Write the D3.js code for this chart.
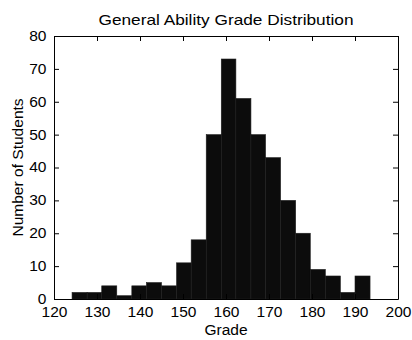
<!DOCTYPE html>
<html>
<head>
<meta charset="utf-8">
<script src="https://cdn.jsdelivr.net/npm/d3@7"></script>
<style>
  html, body { margin: 0; padding: 0; background: #fff; }
  svg { display: block; }
  svg text { font-family: "Liberation Sans", Arial, sans-serif; }
</style>
</head>
<body>
<svg id="chart" width="412" height="340"></svg>
<script>
// ---- data ----
const binEdges = [124.2, 127.7, 131.1, 134.6, 138.1, 141.5, 145.0, 148.5, 151.9, 155.4,
                  158.9, 162.3, 165.8, 169.2, 172.7, 176.2, 179.6, 183.1, 186.6, 190.0, 193.5];
const counts   = [2, 2, 4, 1, 4, 5, 4, 11, 18, 50, 73, 61, 50, 43, 30, 20, 9, 7, 2, 7];
const xTicks = [120, 130, 140, 150, 160, 170, 180, 190, 200];
const yTicks = [0, 10, 20, 30, 40, 50, 60, 70, 80];
const titleText = "General Ability Grade Distribution";
const xLabel = "Grade";
const yLabel = "Number of Students";

// ---- layout ----
const W = 412, H = 340;
const margin = { left: 54, top: 36, right: 14, bottom: 41 };
const iw = W - margin.left - margin.right;
const ih = H - margin.top - margin.bottom;
const FONT = '"Liberation Sans", Arial, sans-serif';
const stretchK = 1.11;

function stretch(sel, k) {
  sel.each(function () {
    const w = this.getComputedTextLength();
    d3.select(this).attr("textLength", w * k).attr("lengthAdjust", "spacingAndGlyphs");
  });
}

const svg = d3.select("#chart");
const g = svg.append("g").attr("transform", `translate(${margin.left},${margin.top})`);

const x = d3.scaleLinear().domain([120, 200]).range([0, iw]);
const y = d3.scaleLinear().domain([0, 80]).range([ih, 0]);

const bins = counts.map((c, i) => ({ x0: binEdges[i], x1: binEdges[i + 1], n: c }));

// bars
g.selectAll("rect.bar").data(bins).enter().append("rect")
  .attr("class", "bar")
  .attr("x", d => x(d.x0))
  .attr("y", d => y(d.n))
  .attr("width", d => x(d.x1) - x(d.x0))
  .attr("height", d => y(0) - y(d.n))
  .attr("fill", "#0c0c0c")
  .attr("stroke", "#1e1e1e")
  .attr("stroke-width", 0.6);

// axes (inward ticks, box)
const tickLen = 5;
const fs = 14;

const xAxisB = d3.axisBottom(x).tickValues(xTicks).tickSizeInner(-tickLen).tickSizeOuter(0).tickPadding(8);
g.append("g").attr("transform", `translate(0,${ih})`).call(xAxisB);

const xAxisT = d3.axisTop(x).tickValues(xTicks).tickSizeInner(-tickLen).tickSizeOuter(0).tickFormat("");
g.append("g").call(xAxisT);

const yAxisL = d3.axisLeft(y).tickValues(yTicks).tickSizeInner(-tickLen).tickSizeOuter(0).tickPadding(7.5);
g.append("g").call(yAxisL);

const yAxisR = d3.axisRight(y).tickValues(yTicks).tickSizeInner(-tickLen).tickSizeOuter(0).tickFormat("");
g.append("g").attr("transform", `translate(${iw},0)`).call(yAxisR);

g.selectAll("g").attr("font-family", FONT).attr("font-size", fs);
g.selectAll(".tick text").attr("fill", "#000");
g.selectAll(".domain").attr("stroke", "#000");
g.selectAll(".tick line").attr("stroke", "#000");
stretch(g.selectAll(".tick text"), stretchK);

// title and labels
const t = svg.append("text")
  .attr("x", margin.left + iw / 2).attr("y", 25)
  .attr("text-anchor", "middle").attr("font-size", 15).attr("fill", "#000")
  .text(titleText);
stretch(t, 1.15);

const xl = svg.append("text")
  .attr("x", margin.left + iw / 2).attr("y", 335)
  .attr("text-anchor", "middle").attr("font-size", fs).attr("fill", "#000")
  .text(xLabel);
stretch(xl, stretchK);

const yl = svg.append("text")
  .attr("transform", `translate(23,${margin.top + ih / 2}) rotate(-90)`)
  .attr("text-anchor", "middle").attr("font-size", fs).attr("fill", "#000")
  .text(yLabel);
stretch(yl, stretchK);
</script>
</body>
</html>
